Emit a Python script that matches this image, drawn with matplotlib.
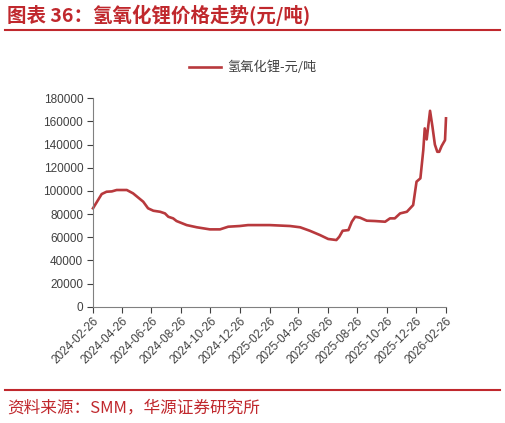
import pandas as pd
import numpy as np
import matplotlib
matplotlib.use("Agg")
import matplotlib.pyplot as plt
import matplotlib.dates as mdates

plt.rcParams['font.family'] = ['Liberation Sans', 'Noto Sans CJK SC', 'DejaVu Sans']

# price of lithium hydroxide, yuan/ton
dates = [
    "2024-02-26", "2024-03-15", "2024-03-25", "2024-04-05", "2024-04-15",
    "2024-05-06", "2024-05-19", "2024-06-09", "2024-06-19", "2024-06-30",
    "2024-07-14", "2024-07-24", "2024-07-31", "2024-08-10", "2024-08-17",
    "2024-09-07", "2024-09-28", "2024-10-25", "2024-11-15", "2024-12-02",
    "2024-12-26", "2025-01-12", "2025-02-05", "2025-02-26", "2025-04-09",
    "2025-04-30", "2025-05-20", "2025-06-10", "2025-06-27", "2025-07-14",
    "2025-07-20", "2025-07-27", "2025-08-08", "2025-08-15", "2025-08-22",
    "2025-09-01", "2025-09-15", "2025-10-02", "2025-10-23", "2025-11-02",
    "2025-11-12", "2025-11-23", "2025-12-07", "2025-12-20", "2025-12-27",
    "2026-01-04", "2026-01-10", "2026-01-13", "2026-01-17", "2026-01-24",
    "2026-01-29", "2026-02-03", "2026-02-08", "2026-02-12", "2026-02-17",
    "2026-02-24", "2026-02-26",
]
price = [
    85000, 97300, 99300, 99600, 100800,
    100800, 97900, 90700, 85000, 82900,
    82000, 80600, 77700, 76300, 74000,
    70500, 68600, 66800, 66800, 69100,
    69700, 70500, 70500, 70500, 69700,
    68600, 65600, 61900, 58500, 57600,
    60400, 65600, 66200, 73400, 77700,
    76900, 74300, 74000, 73400, 76300,
    76300, 80600, 82000, 87800, 108000,
    110900, 135300, 154000, 144500, 169200,
    155400, 140000, 133800, 133800, 138800,
    143900, 162700,
]

x = pd.to_datetime(dates)
red = "#C0282D"
line_red = "#B8393D"

fig = plt.figure(figsize=(5.06, 4.23), dpi=100)
ax = fig.add_axes([0.1838, 0.2749, 0.6976, 0.4927])

ax.plot(x, price, color=line_red, lw=1.9, label="氢氧化锂-元/吨", clip_on=False)

ticks = pd.date_range("2024-02-01", "2026-02-01", freq="2MS") + pd.Timedelta(days=25)
ax.set_xticks(ticks)
ax.xaxis.set_major_formatter(mdates.DateFormatter("%Y-%m-%d"))
ax.set_xlim(pd.Timestamp("2024-02-26"), pd.Timestamp("2026-02-26"))
ax.set_ylim(0, 180000)
ax.set_yticks(np.arange(0, 180001, 20000))

for lab in ax.get_xticklabels():
    lab.set_rotation(45)
    lab.set_ha("right")
    lab.set_rotation_mode("anchor")
ax.tick_params(axis="both", labelsize=8.5, colors="#404040", length=4,
               width=0.8, direction="out")
ax.tick_params(axis="x", pad=2)
ax.tick_params(axis="y", pad=3)
for s in ["top", "right"]:
    ax.spines[s].set_visible(False)
for s in ["left", "bottom"]:
    ax.spines[s].set_color("#808080")
    ax.spines[s].set_linewidth(0.8)

leg = fig.legend(loc="center", bbox_to_anchor=(0.5, 1 - 67.5 / 423), frameon=False,
                 handlelength=2.4, handletextpad=0.5,
                 prop={"family": ["Noto Sans CJK SC"], "size": 9.5})
for t in leg.get_texts():
    t.set_color("#404040")

# title and source
fig.text(7 / 506, 1 - 15 / 423, "图表 36：氢氧化锂价格走势(元/吨)", color=red,
         fontsize=14, fontweight="bold", va="center", ha="left",
         family=["Noto Sans CJK SC"])
fig.add_artist(plt.Line2D([5 / 506, 500 / 506], [1 - 30.5 / 423] * 2,
                          color=red, lw=1.5))
fig.add_artist(plt.Line2D([5 / 506, 500 / 506], [1 - 390 / 423] * 2,
                          color=red, lw=1.5))
fig.text(7 / 506, 1 - 408 / 423, "资料来源：SMM，华源证券研究所", color=red,
         fontsize=12, va="center", ha="left", family=["Noto Sans CJK SC"])

fig.savefig("out.png", dpi=100)
